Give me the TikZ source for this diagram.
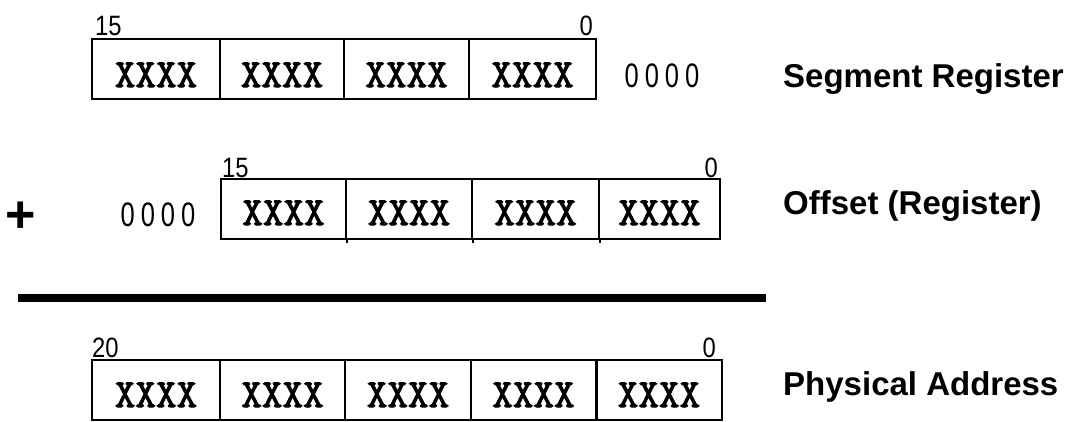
\documentclass[tikz,border=0pt]{standalone}
\usepackage{fontspec}
\setmainfont{Liberation Sans}
\newfontfamily\narf[FakeStretch=0.85]{Liberation Sans}
\newfontfamily\narz[FakeStretch=0.75]{Liberation Sans}
\newfontfamily\xmono[FakeBold=2.5]{Latin Modern Mono}
\newcommand{\zz}{0\kern6pt0\kern6pt0\kern6pt0}
\newcommand{\xx}{XXXX}
\tikzset{
  cellbase/.style={draw, line width=1.6pt, minimum height=60pt, inner sep=0pt,
    font={\xmono\fontsize{40pt}{42pt}\selectfont}},
  cA/.style={cellbase, text height=48pt, text depth=12pt},
  cB/.style={cellbase, text height=46pt, text depth=14pt},
  cC/.style={cellbase, text height=47pt, text depth=13pt},
  bitlbl/.style={inner sep=0pt, font={\narf\fontsize{28pt}{30pt}\selectfont}},
  zeros/.style={inner sep=0pt, anchor=base, font={\narz\fontsize{34pt}{36pt}\selectfont}},
  reglbl/.style={inner sep=0pt, anchor=base west, font={\bfseries\fontsize{33pt}{35pt}\selectfont}},
  sumbar/.style={line width=8pt},
}
\begin{document}
\begin{tikzpicture}[x=1pt,y=-1pt]
\path[use as bounding box] (0,0) rectangle (1081,421);
% Row 1: segment register
\node[cA, minimum width=128pt] (s1) at (156,69) {\xx};
\node[cA, minimum width=124pt] (s2) at (282,69) {\xx};
\node[cA, minimum width=125pt] (s3) at (406.5,69) {\xx};
\node[cA, minimum width=127pt] (s4) at (532.5,69) {\xx};
\node[bitlbl, anchor=base west] (s15) at (95,35) {15};
\node[bitlbl, anchor=base east] (s0) at (593,35) {0};
\node[zeros] (sz) at (662,87) {\zz};
\node[reglbl] (sl) at (783,87) {Segment Register};
% Row 2: offset
\node[cB, minimum width=125pt] (o1) at (283.5,209) {\xx};
\node[cB, minimum width=126pt] (o2) at (409,209) {\xx};
\node[cB, minimum width=127pt] (o3) at (535.5,209) {\xx};
\node[cB, minimum width=121pt] (o4) at (659.5,209) {\xx};
\draw[line width=1.6pt] (o1.south east) -- ++(0,3);
\draw[line width=1.6pt] (o2.south east) -- ++(0,3);
\draw[line width=1.6pt] (o3.south east) -- ++(0,3);
\node[bitlbl, anchor=base west] (o15) at (222,177) {15};
\node[bitlbl, anchor=base east] (o0) at (718,177) {0};
\node[zeros] (oz) at (158,226) {\zz};
\node[inner sep=0pt, font={\bfseries\fontsize{52pt}{54pt}\selectfont}] (plus) at (21,217) {+};
\node[reglbl] (ol) at (783,214) {Offset (Register)};
% Sum bar
\coordinate (bl) at (18,298);
\coordinate (br) at (766,298);
\draw[sumbar] (bl) -- (br);
% Row 3: physical address
\node[cC, minimum width=128pt] (p1) at (156,390) {\xx};
\node[cC, minimum width=125pt] (p2) at (282.5,390) {\xx};
\node[cC, minimum width=126pt] (p3) at (408,390) {\xx};
\node[cC, minimum width=125pt] (p4) at (533.5,390) {\xx};
\node[cC, minimum width=126pt] (p5) at (659,390) {\xx};
\draw[line width=3pt] (p4.north east) -- (p4.south east);
\node[bitlbl, anchor=base west] (p20) at (92,357) {20};
\node[bitlbl, anchor=base east] (p0) at (716,357) {0};
\node[reglbl] (pl) at (783,395) {Physical Address};
\end{tikzpicture}
\end{document}
